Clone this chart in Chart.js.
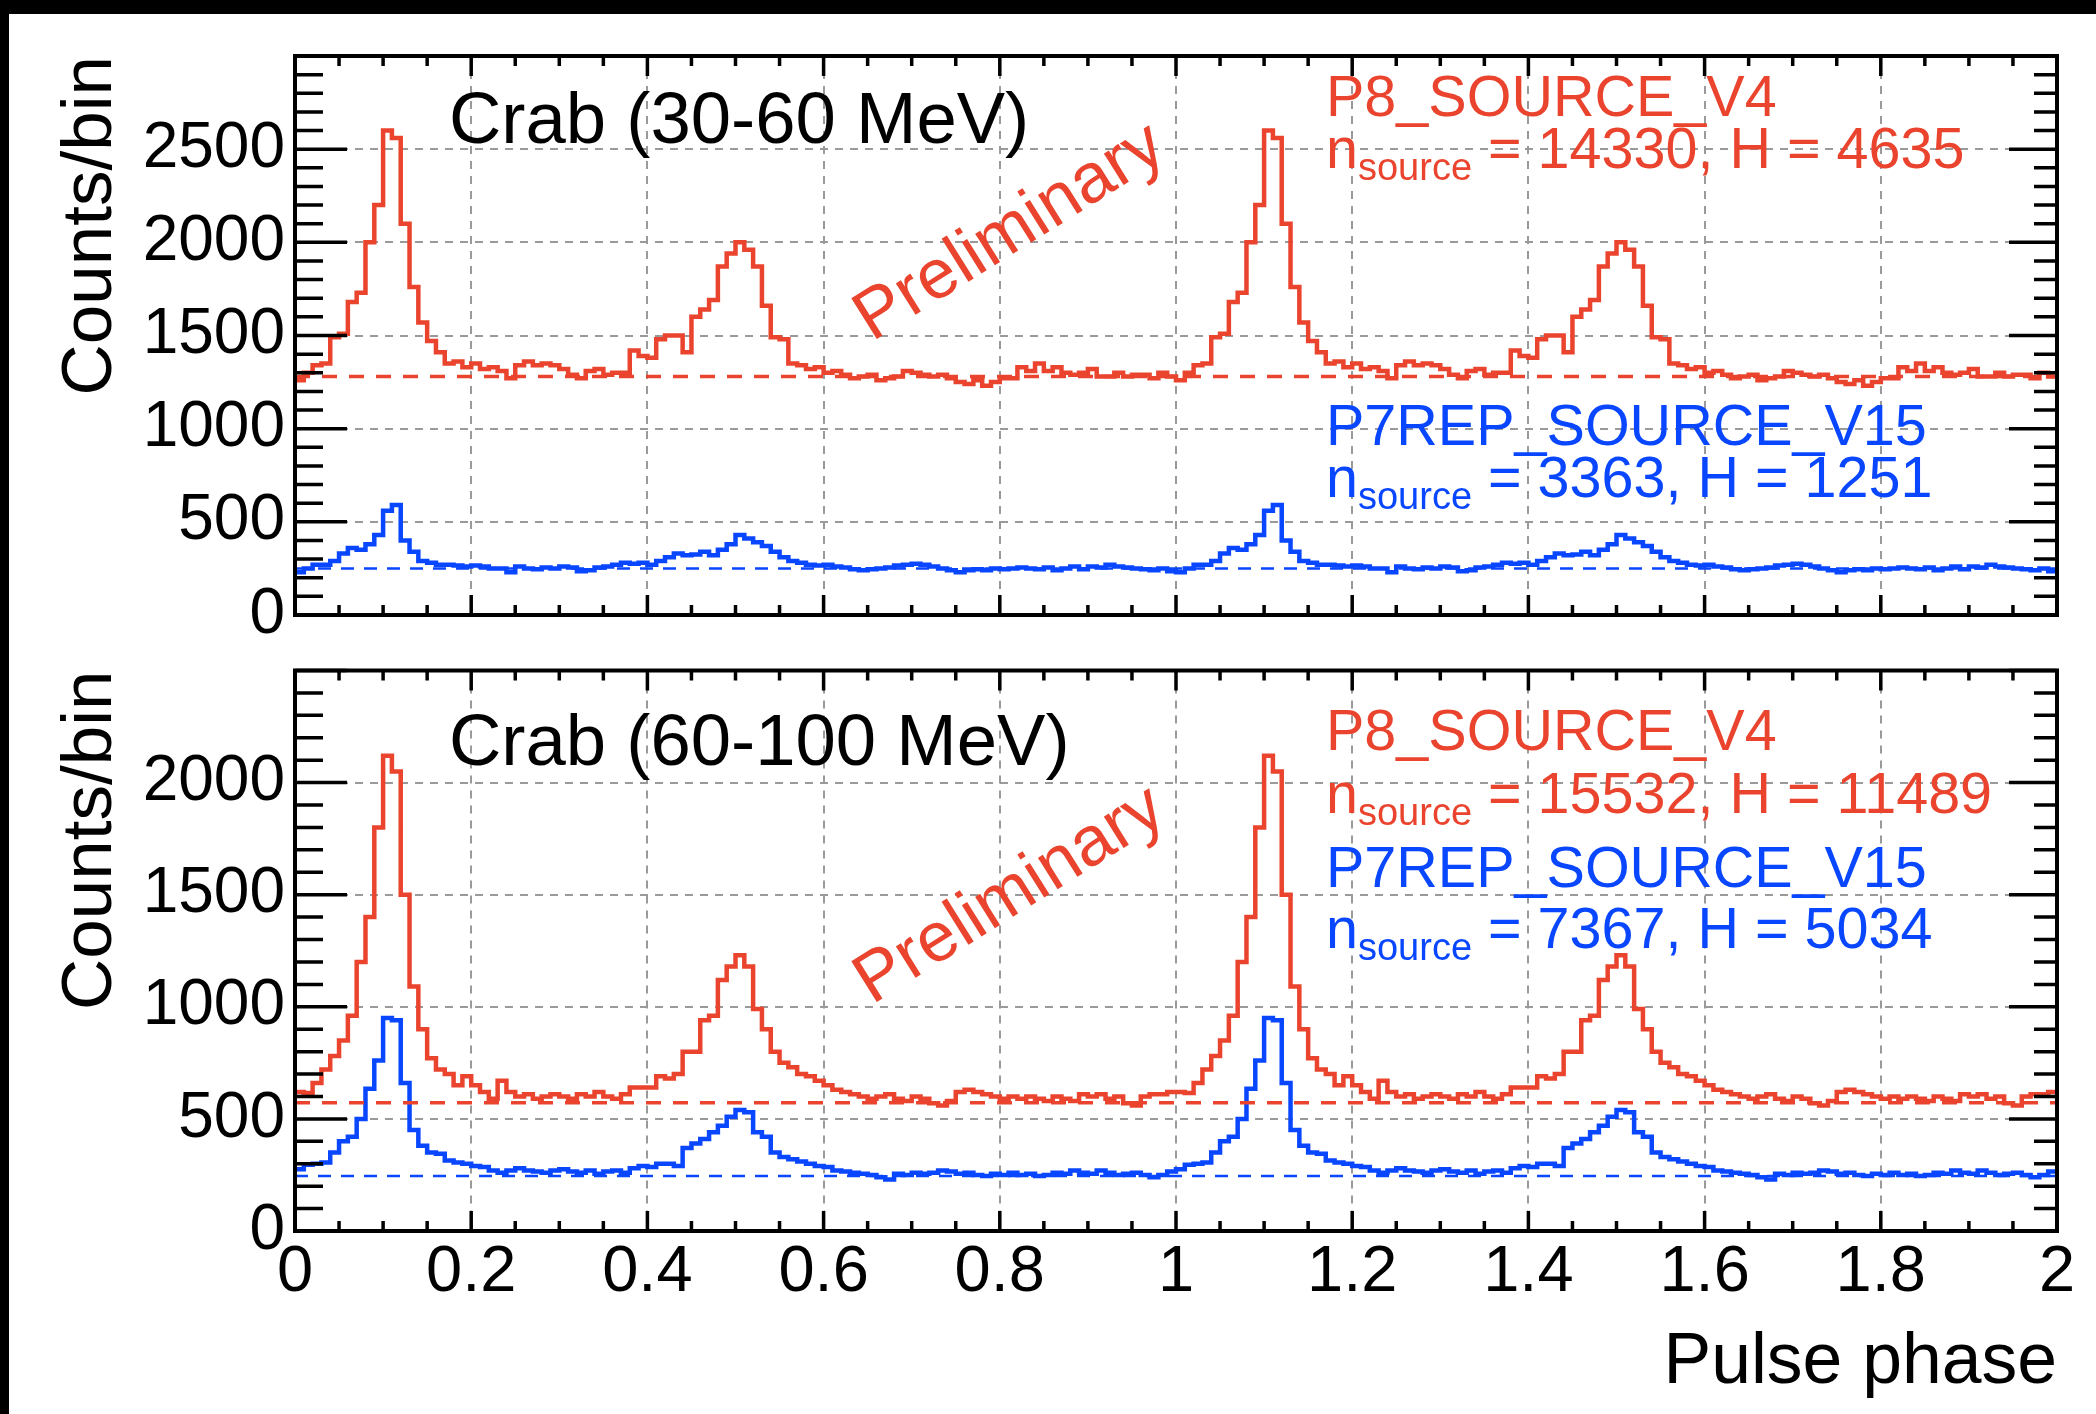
<!DOCTYPE html>
<html>
<head>
<meta charset="utf-8">
<script src="https://cdn.jsdelivr.net/npm/chart.js@4.4.1/dist/chart.umd.min.js"></script>
<style>
html,body{margin:0;padding:0;background:#fff;}
body{width:2096px;height:1414px;position:relative;overflow:hidden;}
canvas{position:absolute;left:0;top:0;}
#topband{position:absolute;left:0;top:0;width:2096px;height:14px;background:#000;}
#leftband{position:absolute;left:0;top:0;width:9px;height:1414px;background:#000;}
</style>
</head>
<body>
<canvas id="lowChart" width="2096" height="1414" style="width:2096px;height:1414px"></canvas>
<canvas id="highChart" width="2096" height="1414" style="width:2096px;height:1414px"></canvas>
<div id="topband"></div>
<div id="leftband"></div>
<script>
// ---- data (one pulse cycle, bin width 0.01 in phase; the phaseogram shows two identical cycles) ----
const binWidth = 0.01;
const nCycles = 2;
const phaseTicks = [0, 0.2, 0.4, 0.6, 0.8, 1, 1.2, 1.4, 1.6, 1.8, 2];
const countTicksLow = [0, 500, 1000, 1500, 2000, 2500];
const countTicksHigh = [0, 500, 1000, 1500, 2000];

// Crab 30-60 MeV, P8_SOURCE_V4 (red)
const lowP8 = [
  1260, 1300, 1340, 1350, 1490, 1510, 1680, 1730, 2000, 2200,
  2600, 2560, 2100, 1760, 1570, 1470, 1410, 1350, 1360, 1330,
  1350, 1320, 1330, 1310, 1270, 1340, 1360, 1340, 1350, 1340,
  1320, 1290, 1270, 1310, 1320, 1290, 1300, 1300, 1420, 1390,
  1380, 1480, 1500, 1500, 1410, 1600, 1640, 1690, 1870, 1940,
  2000, 1960, 1870, 1660, 1490, 1480, 1350, 1340, 1320, 1330,
  1300, 1310, 1290, 1270, 1280, 1290, 1260, 1270, 1280, 1310,
  1300, 1290, 1280, 1290, 1270, 1250, 1240, 1260, 1230, 1250,
  1270, 1270, 1330, 1310, 1350, 1310, 1330, 1300, 1290, 1300,
  1320, 1280, 1280, 1300, 1280, 1290, 1290, 1270, 1300, 1280
];
// Crab 30-60 MeV, P7REP_SOURCE_V15 (blue)
const lowP7 = [
  230, 250, 270, 270, 290, 330, 360, 350, 380, 430,
  560, 590, 400, 340, 290, 280, 270, 270, 265, 260,
  265, 260, 250, 250, 230, 260, 250, 245, 255, 250,
  260, 255, 235, 240, 255, 260, 270, 280, 275, 280,
  270, 290, 310, 330, 320, 325, 340, 320, 350, 380,
  430, 410, 390, 370, 340, 310, 290, 280, 270, 265,
  270, 260, 255, 245, 240, 245, 250, 255, 265, 270,
  275, 270, 260, 250, 240, 230, 240, 245, 240, 250,
  245, 250, 255, 250, 245, 255, 240, 250, 260, 245,
  260, 255, 270, 260, 255, 250, 245, 240, 250, 235
];
// Crab 60-100 MeV, P8_SOURCE_V4 (red)
const highP8 = [
  620, 615, 660, 720, 780, 850, 960, 1200, 1400, 1800,
  2120, 2050, 1500, 1090, 900, 770, 720, 700, 650, 690,
  650, 620, 590, 670, 620, 600, 610, 590, 600, 610,
  600, 590, 610, 600, 620, 600, 590, 610, 640, 640,
  640, 690, 680, 700, 800, 800, 940, 960, 1120, 1180,
  1230, 1180, 990, 900, 800, 750, 730, 700, 690, 670,
  650, 630, 620, 610, 600, 590, 600, 610, 590, 580,
  600, 590, 570, 560, 580, 620, 630, 620, 610, 600,
  590, 600, 590, 600, 590, 580, 600, 590, 580, 610,
  600, 610, 590, 600, 570, 560, 600, 610, 610, 620
];
// Crab 60-100 MeV, P7REP_SOURCE_V15 (blue)
const highP7 = [
  275, 295, 300, 305, 350, 400, 420, 500, 635, 760,
  950, 940, 660, 450, 380, 350, 345, 315, 305, 300,
  290, 285, 270, 260, 270, 280, 270, 265, 260, 270,
  275, 265, 260, 270, 255, 265, 270, 260, 280, 290,
  285, 300, 300, 290, 370, 390, 410, 440, 470, 510,
  540, 530, 440, 420, 350, 330, 320, 310, 300, 290,
  285, 270, 265, 260, 255, 250, 240, 230, 255, 250,
  260, 255, 260, 270, 265, 255, 260, 250, 245, 255,
  250, 260, 250, 255, 245, 250, 260, 255, 270, 260,
  255, 270, 260, 250, 255, 260, 250, 240, 250, 265
];
// background levels (dashed lines): [P8, P7]
const lowBackground = [1280, 250];
const highBackground = [572, 245];

const panelTitles = ['Crab (30-60 MeV)', 'Crab (60-100 MeV)'];
const classNames = ['P8_SOURCE_V4', 'P7REP_SOURCE_V15'];
const lowStats = [' = 14330, H = 4635', ' = 3363, H = 1251'];
const highStats = [' = 15532, H = 11489', ' = 7367, H = 5034'];

// ---- styles ----
const RED = 'rgb(234,68,46)';
const BLUE = 'rgb(8,70,255)';
const FONT = '"Liberation Sans", Arial, Helvetica, sans-serif';

function histPoints(cycle) {
  const pts = [];
  for (let c = 0; c < nCycles; c++) {
    cycle.forEach((v, i) => pts.push({x: c + i * binWidth, y: v}));
  }
  pts.push({x: nCycles, y: cycle[cycle.length - 1]});
  return pts;
}
function flatLine(v) {
  return [{x: 0, y: v}, {x: nCycles, y: v}];
}

const framePlugin = {
  id: 'rootFrame',
  afterDatasetsDraw(chart, args, opts) {
    const {ctx, chartArea: a, scales: {x, y}} = chart;
    ctx.save();
    ctx.strokeStyle = '#000';
    ctx.lineWidth = 3.5;
    ctx.lineCap = 'butt';
    ctx.beginPath();
    for (let v = y.min; v <= y.max + 1e-6; v += 100) {
      const py = y.getPixelForValue(v);
      const major = Math.round(v) % 500 === 0;
      const lL = major ? 52 : 28, lR = major ? 48 : 23;
      ctx.moveTo(a.left, py); ctx.lineTo(a.left + lL, py);
      ctx.moveTo(a.right, py); ctx.lineTo(a.right - lR, py);
    }
    for (let k = 0; k <= 40; k++) {
      const px = x.getPixelForValue(k * 0.05);
      const l = k % 4 === 0 ? 20 : 10;
      ctx.moveTo(px, a.bottom); ctx.lineTo(px, a.bottom - l);
      ctx.moveTo(px, a.top); ctx.lineTo(px, a.top + l);
    }
    ctx.stroke();
    ctx.lineWidth = 4;
    ctx.strokeRect(a.left, a.top, a.right - a.left, a.bottom - a.top);
    ctx.restore();
  }
};

const textPlugin = {
  id: 'panelText',
  afterDraw(chart, args, o) {
    const ctx = chart.ctx;
    ctx.save();
    ctx.textBaseline = 'alphabetic';
    ctx.textAlign = 'left';
    ctx.fillStyle = '#000';
    ctx.font = `72.5px ${FONT}`;
    ctx.fillText(o.title, o.titleX, o.titleY);
    o.entries.forEach(e => {
      ctx.fillStyle = e.color;
      ctx.font = `57.5px ${FONT}`;
      ctx.fillText(e.name, o.legendX, e.nameY);
      ctx.fillText('n', o.legendX, e.statY);
      const wn = ctx.measureText('n').width;
      ctx.font = `38px ${FONT}`;
      ctx.fillText('source', o.legendX + wn, e.statY + 12);
      const ws = ctx.measureText('source').width;
      ctx.font = `57.5px ${FONT}`;
      ctx.fillText(e.stats, o.legendX + wn + ws, e.statY);
    });
    ctx.fillStyle = RED;
    ctx.font = `70px ${FONT}`;
    ctx.translate(o.prelimX, o.prelimY);
    ctx.rotate(-32 * Math.PI / 180);
    ctx.fillText('Preliminary', 0, 0);
    ctx.restore();
  }
};

function makeChart(id, p8, p7, bg, yMax, yLabels, showX, padTop, padBottom, xHeight, textOpts) {
  return new Chart(document.getElementById(id), {
    type: 'line',
    data: {
      datasets: [
        {data: flatLine(bg[0]), borderColor: RED, borderWidth: 3.5, borderDash: [15, 12], pointRadius: 0, fill: false},
        {data: flatLine(bg[1]), borderColor: BLUE, borderWidth: 2.5, borderDash: [13, 10], pointRadius: 0, fill: false},
        {data: histPoints(p7), borderColor: BLUE, borderWidth: 4.5, stepped: 'before', pointRadius: 0, fill: false},
        {data: histPoints(p8), borderColor: RED, borderWidth: 4.5, stepped: 'before', pointRadius: 0, fill: false}
      ]
    },
    options: {
      responsive: false,
      animation: false,
      devicePixelRatio: 1,
      layout: {padding: {left: 0, right: 39, top: padTop, bottom: padBottom}},
      plugins: {legend: {display: false}, tooltip: {enabled: false}, panelText: textOpts},
      scales: {
        x: {
          type: 'linear', min: 0, max: 2,
          afterFit(s) { s.height = xHeight; },
          grid: {color: '#9a9a9a', lineWidth: 2, drawTicks: false},
          border: {display: false, dash: [8, 7]},
          ticks: {
            display: showX, stepSize: 0.2, padding: 3, autoSkip: false, maxRotation: 0,
            color: '#000', font: {family: FONT, size: 65},
            callback: v => { const r = Math.round(v * 10) / 10; return phaseTicks.includes(r) ? String(r) : ''; }
          },
          title: {display: showX, text: 'Pulse phase', align: 'end', color: '#000',
                  font: {family: FONT, size: 71.5}, padding: {top: 0, bottom: 8}}
        },
        y: {
          type: 'linear', min: 0, max: yMax,
          afterFit(s) { s.width = 295; },
          grid: {color: '#9a9a9a', lineWidth: 2, drawTicks: false},
          border: {display: false, dash: [8, 7]},
          ticks: {
            stepSize: 500, padding: 10, autoSkip: false, color: '#000',
            font: {family: FONT, size: 64},
            callback: v => yLabels.includes(v) ? String(v) : ''
          },
          title: {display: true, text: 'Counts/bin', align: 'end', color: '#000',
                  font: {family: FONT, size: 71}, padding: {top: 49, bottom: 0}}
        }
      }
    },
    plugins: [framePlugin, textPlugin]
  });
}

makeChart('lowChart', lowP8, lowP7, lowBackground, 3000, countTicksLow, false, 56, 1414 - 615, 0, {
  title: panelTitles[0], titleX: 449, titleY: 143,
  legendX: 1326,
  entries: [
    {name: classNames[0], stats: lowStats[0], color: RED, nameY: 116, statY: 168},
    {name: classNames[1], stats: lowStats[1], color: BLUE, nameY: 445, statY: 497}
  ],
  prelimX: 872, prelimY: 342
});
makeChart('highChart', highP8, highP7, highBackground, 2500, countTicksHigh, true, 670.5, 0, 1414 - 1231, {
  title: panelTitles[1], titleX: 449, titleY: 765,
  legendX: 1326,
  entries: [
    {name: classNames[0], stats: highStats[0], color: RED, nameY: 750, statY: 813},
    {name: classNames[1], stats: highStats[1], color: BLUE, nameY: 887, statY: 948}
  ],
  prelimX: 872, prelimY: 1005
});
</script>
</body>
</html>
